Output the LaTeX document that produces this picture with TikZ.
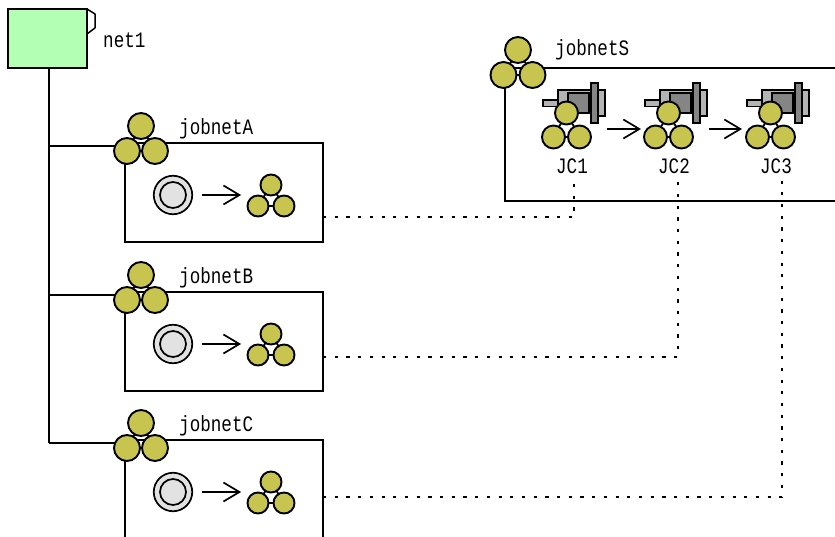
\documentclass[tikz,border=0pt]{standalone}
\usepackage{fontspec}
\setmainfont{Liberation Mono}
\usetikzlibrary{arrows.meta}
\definecolor{nodeolive}{HTML}{C8C450}
\definecolor{netgreen}{HTML}{B3FFB3}
\definecolor{startgray}{HTML}{E2E2E2}
\definecolor{motorlight}{HTML}{B4B4B4}
\definecolor{motordark}{HTML}{858585}
\tikzset{
  x=1pt,y=-1pt,
  line/.style={draw=black,line width=1.8pt},
  flow/.style={line,-{Straight Barb[length=16pt,width=19pt,line width=1.7pt]}},
  dep/.style={draw=black,line width=1.8pt,dash pattern=on 3.2pt off 8.5pt},
  lab/.style={inner sep=0pt,anchor=west,font=\fontsize{22}{22}\selectfont},
  netball/.style={circle,draw=black,line width=1.9pt,fill=nodeolive,inner sep=0pt,minimum size=#1},
  motor/.style={draw=black,line width=1.3pt},
}
\newcommand{\narrowtxt}[1]{\scalebox{0.8}[1]{#1}}
\newcommand{\jobicon}[6]{%
  \draw[line] (#2-#4,#3+#5) -- (#2,#3) -- (#2+#4,#3+#5) -- cycle;
  \node[netball=#6pt] (#1t) at (#2,#3) {};
  \node[netball=#6pt] (#1l) at (#2-#4,#3+#5) {};
  \node[netball=#6pt] (#1r) at (#2+#4,#3+#5) {};
}
\newcommand{\jobnetrow}[4]{%
  \coordinate (#1tl) at (125,143+#3);
  \coordinate (#1tr) at (323,143+#3);
  \coordinate (#1port) at (323,#4);
  \coordinate (#1trunk) at (49,146+#3);
  \draw[line] (#1trunk) -- (127,146+#3);
  \draw[line] (#1tl) -- (#1tr) -- (323,242+#3) -- (125,242+#3) -- cycle;
  \jobicon{#1i}{141}{126+#3}{14}{25}{26}
  \node[lab] (#1lab) at (179,129+#3) {\narrowtxt{#2}};
  \node[circle,draw=black,line width=1.7pt,fill=startgray,inner sep=0pt,minimum size=38.5pt] (#1so) at (173,195+#3) {};
  \node[circle,draw=black,line width=1.7pt,fill=startgray,inner sep=0pt,minimum size=26pt] (#1si) at (173,195+#3) {};
  \jobicon{#1c}{271}{185+#3}{13}{21}{21}
  \draw[flow] (#1so.east) ++(9,0) coordinate (#1as) -- ++(39,0) coordinate (#1ae);
}
\newcommand{\jcunit}[3]{%
  \begin{scope}[shift={(#3,0)}]
    \draw[motor,fill=motorlight] (543,100) rectangle (558,106.5);
    \draw[motor,fill=motorlight] (598,90) rectangle (605,116);
    \draw[motor,fill=motorlight] (558,90) rectangle (598,113);
    \draw[motor,fill=motordark] (568,93) rectangle (589,113);
    \draw[motor,fill=motordark] (591,83) rectangle (598,123);
    \jobicon{#1i}{566.5}{113}{13}{24}{23}
    \node[lab,anchor=center] (#1lab) at (572,166) {\narrowtxt{#2}};
  \end{scope}
}
\begin{document}
\begin{tikzpicture}
\useasboundingbox (0,0) rectangle (835,537);
\clip (0,0) rectangle (835,537);
\fill[white] (0,0) rectangle (835,537);
\coordinate (jc1d) at (574,180);
\coordinate (jc2d) at (678,180);
\coordinate (jc3d) at (782,180);
\coordinate (ac) at (574,217);
\coordinate (bc) at (678,357);
\coordinate (cc) at (782,497);
\coordinate (stl) at (505,68);
\draw[line] (stl) -- (860,68) -- (860,201) -- (505,201) -- cycle;
\jobicon{si}{518}{50}{14.5}{25}{26}
\node[lab] (slab) at (555,50) {\narrowtxt{jobnetS}};
\jcunit{jcone}{JC1}{0}
\jcunit{jctwo}{JC2}{102}
\jcunit{jcthree}{JC3}{204}
\coordinate (f1s) at (607,129); \coordinate (f1e) at (641,129);
\coordinate (f2s) at (709,129); \coordinate (f2e) at (742,129);
\draw[flow] (f1s) -- (f1e);
\draw[flow] (f2s) -- (f2e);
\node[rectangle,draw=black,line width=1.8pt,fill=netgreen,inner sep=0pt,minimum width=79pt,minimum height=59pt] (net) at (47.5,38.5) {};
\coordinate (nt1) at (87,9); \coordinate (nt2) at (95,14); \coordinate (nt3) at (95,28); \coordinate (nt4) at (87,34);
\draw[draw=black,line width=1.5pt,line join=round] (nt1) -- (nt2) -- (nt3) -- (nt4);
\node[lab] (netlab) at (103,40) {\narrowtxt{net1}};
\jobnetrow{a}{jobnetA}{0}{217}
\jobnetrow{b}{jobnetB}{149}{357}
\jobnetrow{c}{jobnetC}{297}{497}
\coordinate (ntrunk) at (49,68);
\draw[line] (ntrunk) -- (ctrunk);
\draw[dep] (aport) -- (ac) -- (jc1d);
\draw[dep] (bport) -- (bc) -- (jc2d);
\draw[dep] (cport) -- (cc) -- (jc3d);
\end{tikzpicture}
\end{document}
